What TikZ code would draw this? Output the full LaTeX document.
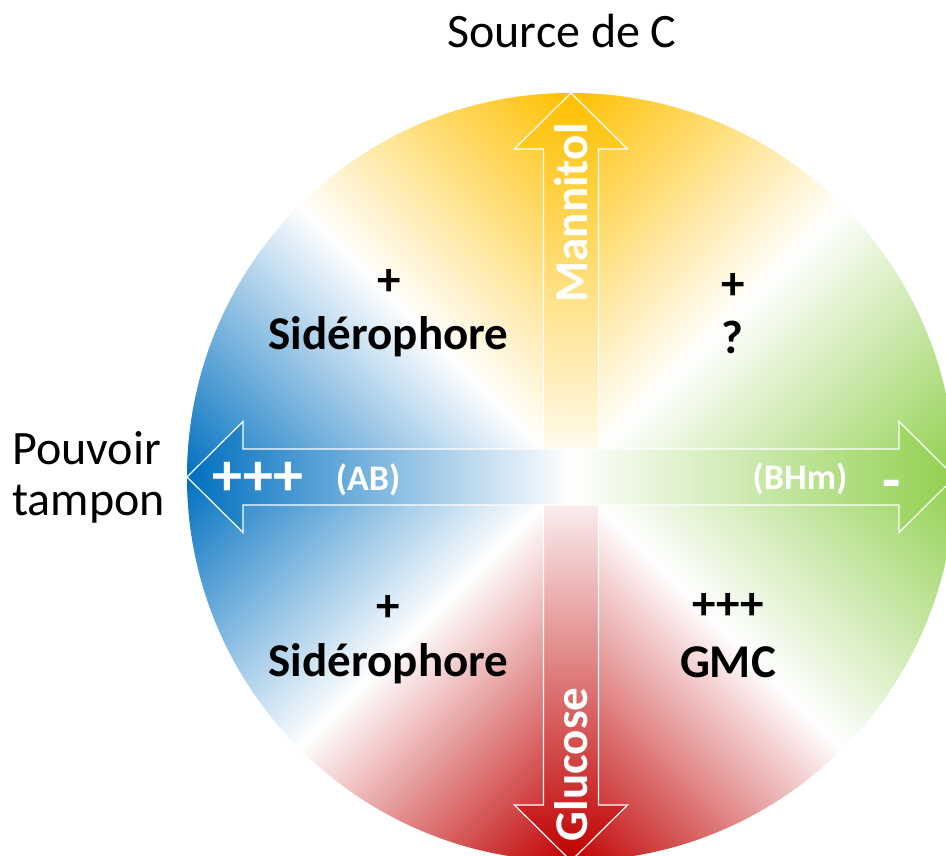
\documentclass[tikz,border=0pt]{standalone}
\usepackage{fontspec}
\setmainfont{Carlito}
\definecolor{cblue}{HTML}{0070C0}
\definecolor{cyellow}{HTML}{FFC000}
\definecolor{cgreen}{HTML}{92D050}
\definecolor{cred}{HTML}{C00000}
\newcommand\quadfill[4]{%
  \begin{scope}
    \clip (0,0) -- (#1:384) arc[start angle=#1, delta angle=90, radius=384] -- cycle;
    \begin{scope}[rotate=#2]
      \foreach \k in {1,...,90}{%
        \pgfmathsetmacro\pp{(\k-0.5)/90*100}%
        \pgfmathsetmacro\ua{(\k-1)*3.017}%
        \pgfmathsetmacro\ub{\k*3.017+0.6}%
        \fill[#3!\pp!white] (-\ua,-400) rectangle (-\ub,400);
        \fill[#4!\pp!white] (\ua,-400) rectangle (\ub,400);
      }
    \end{scope}
  \end{scope}}
\tikzset{
  blk/.style={inner sep=0pt, text=black, font=\bfseries\fontsize{47}{56}\selectfont},
  wht/.style={inner sep=0pt, text=white, font=\bfseries\fontsize{47}{56}\selectfont},
  whtsmall/.style={inner sep=0pt, text=white, font=\bfseries\fontsize{36}{43}\selectfont},
  whtbig/.style={inner sep=0pt, text=white, font=\bfseries\fontsize{60}{72}\selectfont},
  outer/.style={inner sep=0pt, text=black, font=\fontsize{48}{58}\selectfont},
  arrowbox/.style={draw=white, line width=1.2pt, line join=miter}
}
\begin{document}
\begin{tikzpicture}[x=1pt,y=1pt]
\useasboundingbox (-571,-379) rectangle (375,477);
\clip (-571,-379) rectangle (375,477);
\fill[white] (-571,-379) rectangle (375,477);
% circle background
\quadfill{90}{45}{cblue}{cyellow}
\quadfill{0}{-45}{cyellow}{cgreen}
\quadfill{270}{45}{cred}{cgreen}
\quadfill{180}{-45}{cblue}{cred}
% vertical double arrow
\shade[arrowbox, top color=cyellow, bottom color=cred, middle color=white]
  (0,384) -- (56.5,328) -- (27.5,328) -- (27.5,-328) -- (56.5,-328) -- (0,-384)
  -- (-56.5,-328) -- (-27.5,-328) -- (-27.5,328) -- (-56.5,328) -- cycle;
% horizontal double arrow
\shade[arrowbox, left color=cblue, right color=cgreen, middle color=white]
  (-384,0) -- (-328,55.5) -- (-328,28) -- (328,28) -- (328,55.5) -- (384,0)
  -- (328,-55.5) -- (328,-28) -- (-328,-28) -- (-328,-55.5) -- cycle;
% outer labels
\node[outer, anchor=base] (src) at (-9,429) {Source de C};
\node[outer, anchor=base west] (pouv) at (-559,12) {Pouvoir};
\node[outer, anchor=base west] (tamp) at (-559,-39) {tampon};
% quadrant labels
\node[blk, anchor=center] (tlp) at (-182,195) {+};
\node[blk, anchor=base] (tls) at (-182.5,127) {Sidérophore};
\node[blk, anchor=center] (trp) at (162,191) {+};
\node[blk, anchor=base] (trq) at (161,123) {?};
\node[blk, anchor=center] (blp) at (-182.5,-131) {+};
\node[blk, anchor=base] (bls) at (-182.5,-200) {Sidérophore};
\node[blk, anchor=center] (brp) at (157.5,-129) {+++};
\node[blk, anchor=base] (brg) at (157,-201) {GMC};
% arrow labels
\node[whtbig, anchor=center] (lp) at (-313,-2) {+++};
\node[whtsmall, anchor=base] (ab) at (-203,-14) {(AB)};
\node[whtsmall, anchor=base] (bhm) at (229,-13) {(BHm)};
\node[whtbig, anchor=base] (mn) at (321,-24) {-};
\node[wht, anchor=base, rotate=90] (man) at (17,264) {Mannitol};
\node[wht, anchor=base, rotate=90] (glu) at (17,-287.5) {Glucose};
\end{tikzpicture}
\end{document}
